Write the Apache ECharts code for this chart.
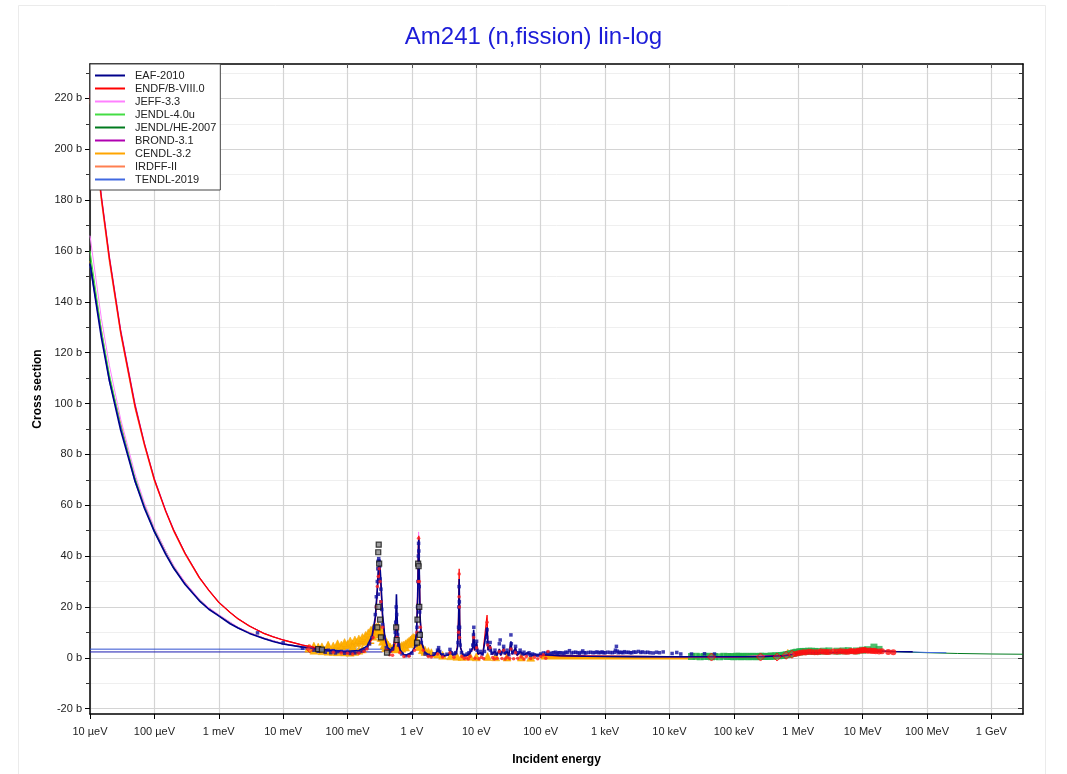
<!DOCTYPE html>
<html>
<head>
<meta charset="utf-8">
<script src="https://cdn.jsdelivr.net/npm/echarts@6/dist/echarts.min.js"></script>
<style>html,body{margin:0;padding:0;background:#fff}#c{width:1067px;height:774px}</style>
</head>
<body>
<div id="c"></div>
<script>
// ---------- tick labels ----------
const xTickValues = [1e-5,1e-4,1e-3,1e-2,1e-1,1,10,100,1e3,1e4,1e5,1e6,1e7,1e8,1e9];
const xTickLabels = ['10 µeV','100 µeV','1 meV','10 meV','100 meV','1 eV','10 eV','100 eV','1 keV','10 keV','100 keV','1 MeV','10 MeV','100 MeV','1 GeV'];
const yMajorTicks = [-20,0,20,40,60,80,100,120,140,160,180,200,220];
const yMinorTicks = [-10,10,30,50,70,90,110,130,150,170,190,210,230];

const libNames = ['EAF-2010','ENDF/B-VIII.0','JEFF-3.3','JENDL-4.0u','JENDL/HE-2007','BROND-3.1','CENDL-3.2','IRDFF-II','TENDL-2019'];
const libColors = ['#00008b','#ff0000','#ff80ff','#44dd44','#007a1e','#b000b0','#ffa500','#ff7f50','#4169e1'];

// ---------- evaluated data (energy eV, cross section b) ----------
const eaf2010 = [[1e-5,155],[1.5e-5,126],[2e-5,109],[3e-5,89.5],[5e-5,69.5],[7e-5,58.8],[1e-4,49.6],[1.5e-4,40.7],[2e-4,35.2],[3e-4,28.8],[5e-4,22.4],[7e-4,19.1],[1e-3,16.5],[1.5e-3,13.4],[2e-3,11.7],[3e-3,9.6],[5e-3,7.6],[7e-3,6.4],[1e-2,5.4],[2e-2,4.2],[3e-2,3.6],[5e-2,3.0],[0.08,2.7],[0.1,2.6],[0.15,2.9],[0.2,4.5],[0.24,8.5],[0.27,16],[0.29,27],[0.305,37.5],[0.315,38.5],[0.33,30],[0.35,17],[0.38,8],[0.42,4],[0.47,3],[0.52,4.5],[0.55,9],[0.565,18],[0.575,25],[0.585,18],[0.61,7],[0.66,3],[0.75,1.3],[0.85,1.2],[1.0,2.2],[1.1,4],[1.18,10],[1.23,24],[1.26,42],[1.28,47],[1.3,35],[1.34,16],[1.42,6],[1.6,2],[1.9,0.8],[2.2,1],[2.4,2.2],[2.6,3.5],[2.8,1.5],[3.2,0.8],[3.7,1.2],[3.97,2.8],[4.3,1.2],[4.8,1.5],[5.1,4],[5.3,14],[5.42,31],[5.52,14],[5.7,4],[6.2,1.2],[7.0,0.8],[7.7,1.5],[8.2,2.5],[8.8,4],[9.1,11],[9.4,3],[10.1,6],[10.6,1.5],[11.6,2],[12.6,1.3],[13.4,2],[14.7,12],[15.2,3],[16.4,5],[17.5,1.5],[19.5,2.5],[21,1],[22.8,3.5],[24,1],[26.6,4],[28,1.5],[30,2.5],[32,1],[34.5,6.5],[36,1.5],[40.7,4],[43,1],[48,2.5],[55,1.2],[63,2],[75,1],[100,1.3],[200,0.8],[500,0.6],[1000,0.5],[3000,0.45],[1e4,0.4],[3e4,0.4],[1e5,0.4],[3e5,0.5],[6e5,0.8],[8e5,1.3],[1e6,1.8],[1.3e6,2.0],[2e6,2.0],[4e6,2.1],[7e6,2.3],[1e7,2.5],[1.5e7,2.6],[2e7,2.6],[3e7,2.5],[6e7,2.4]];

const endf8 = [[1e-5,221],[1.5e-5,181],[2e-5,157],[3e-5,128],[5e-5,99],[7e-5,84],[1e-4,70],[1.5e-4,57.5],[2e-4,50],[3e-4,41],[5e-4,31.5],[7e-4,26.5],[1e-3,21.8],[1.5e-3,17.8],[2e-3,15.3],[3e-3,12.4],[5e-3,9.6],[7e-3,8.2],[1e-2,7.0],[2e-2,5.0],[3e-2,4.1],[5e-2,3.0],[0.08,2.2],[0.1,1.8],[0.15,2.0],[0.2,3.6],[0.24,7.5],[0.27,15],[0.29,26],[0.305,35.5],[0.315,36],[0.33,28],[0.35,16],[0.38,7.5],[0.42,3.5],[0.47,2.3],[0.52,3.2],[0.55,6.5],[0.565,11],[0.575,14],[0.585,11],[0.61,5],[0.66,2.5],[0.75,1.1],[0.85,1.0],[1.0,2.0],[1.1,3.8],[1.18,10],[1.23,25],[1.26,44],[1.28,48],[1.3,36],[1.34,16],[1.42,5.5],[1.6,1.8],[1.9,0.7],[2.2,0.9],[2.4,2.0],[2.6,3.3],[2.8,1.3],[3.2,0.7],[3.7,1.1],[3.97,2.6],[4.3,1.1],[4.8,1.4],[5.1,4.5],[5.3,16],[5.42,35],[5.52,15],[5.7,4],[6.2,1.1],[7.0,0.7],[7.7,1.3],[8.2,2.3],[8.8,3.5],[9.1,10],[9.4,2.8],[10.1,5.5],[10.6,1.3],[11.6,1.8],[12.6,1.1],[13.4,1.8],[14.7,16.8],[15.2,3],[16.4,4.5],[17.5,1.3],[19.5,2.2],[21,0.9],[22.8,3.2],[24,0.9],[26.6,3.6],[28,1.3],[30,2.2],[32,0.9],[34.5,6],[36,1.3],[40.7,3.6],[43,0.9],[48,2.2],[55,1.1],[63,1.8],[75,0.9],[100,1.1],[200,0.8],[500,0.6],[1000,0.55],[1e4,0.45],[1e5,0.4],[3e5,0.45],[6e5,0.9],[8e5,1.4],[1e6,1.8],[2e6,2.0],[5e6,2.2],[1e7,2.6],[1.5e7,2.7],[2e7,2.6],[3e7,2.4]];

const jeff33 = [[1e-5,166],[1.5e-5,133.5],[2e-5,115],[3e-5,93.8],[5e-5,72.3],[7e-5,60.9],[1e-4,51.2],[1.5e-4,42],[2e-4,36.3],[3e-4,29.7],[5e-4,23.1],[7e-4,19.7],[1e-3,17.0],[2e-3,12.0],[3e-3,9.9],[5e-3,7.8],[1e-2,5.6],[2e-2,4.35],[3e-2,3.7],[5e-2,3.1],[0.1,2.7],[0.15,'-'],[1.2,20],[1.25,40],[1.27,49.5],[1.29,40],[1.33,18],[1.36,'-'],[100,1.2],[1000,0.55],[1e4,0.45],[1e5,0.4],[6e5,0.9],[1e6,1.8],[5e6,2.2],[1e7,2.6],[2e7,2.6]];

const jendl40u = [[1e-5,160],[1.5e-5,129],[2e-5,111.5],[3e-5,91.5],[5e-5,71.0],[7e-5,60.0],[1e-4,50.6],[2e-4,35.9],[3e-4,29.4],[5e-4,22.9],[7e-4,19.5],[1e-3,16.8],[2e-3,11.9],[3e-3,9.8],[5e-3,7.7],[1e-2,5.5],[2e-2,4.3],[3e-2,3.7],[5e-2,3.1],[0.1,2.7],[0.15,'-'],[100,1.2],[1000,0.5],[1e4,0.45],[5e4,0.5],[1e5,0.5],[3e5,0.55],[6e5,0.9],[8e5,1.4],[1e6,1.9],[2e6,2.0],[5e6,2.2],[1e7,2.6],[2e7,2.7]];

const jendlhe2007 = [[1e-5,157],[1.5e-5,127.5],[2e-5,110.3],[3e-5,90.5],[5e-5,70.3],[7e-5,59.5],[1e-4,50.2],[2e-4,35.6],[3e-4,29.1],[5e-4,22.7],[7e-4,19.3],[1e-3,16.7],[2e-3,11.8],[3e-3,9.7],[5e-3,7.7],[1e-2,5.5],[2e-2,4.25],[3e-2,3.65],[5e-2,3.05],[0.1,2.65],[0.15,'-'],[100,1.2],[1000,0.5],[1e4,0.45],[1e5,0.45],[3e5,0.5],[6e5,0.9],[8e5,1.4],[1e6,1.9],[2e6,2.0],[5e6,2.2],[1e7,2.6],[2e7,2.5],[3e7,2.4],[1e8,2.0],[3e8,1.7],[1e9,1.5],[3.1e9,1.4]];

const brond31 = [[1e-5,222],[1.5e-5,182],[2e-5,158],[3e-5,129],[5e-5,100],[7e-5,84.5],[1e-4,70.5],[1.5e-4,58],[2e-4,50.4],[3e-4,41.3],[5e-4,31.7],[7e-4,26.7],[1e-3,22],[1.5e-3,17.9],[2e-3,15.4],[3e-3,12.5],[5e-3,9.7],[7e-3,8.3],[1e-2,7.05],[2e-2,5.05],[3e-2,4.15],[5e-2,3.1],[0.1,1.9],[0.15,'-'],[100,1.1],[1000,0.55],[1e4,0.45],[1e5,0.4],[6e5,0.9],[1e6,1.8],[5e6,2.2],[1e7,2.6],[2e7,2.6]];

const cendl32 = [[1e-5,156],[2e-5,110],[5e-5,70],[1e-4,50],[2e-4,35.5],[5e-4,22.6],[1e-3,16.6],[2e-3,11.8],[5e-3,7.7],[1e-2,5.5],[2e-2,4.3],[5e-2,3.1],[0.1,2.7],[0.15,'-'],[100,0.2],[1000,0.15],[1e4,0.15],[3e4,0.2],[1e5,0.4],[6e5,0.9],[1e6,1.8],[5e6,2.2],[1e7,2.6],[2e7,2.6]];

const irdff2 = [[1e-5,219],[1.5e-5,179.5],[2e-5,155.5],[3e-5,127],[5e-5,98],[7e-5,83.3],[1e-4,69.4],[2e-4,49.6],[3e-4,40.6],[5e-4,31.2],[1e-3,21.6],[2e-3,15.2],[5e-3,9.5],[1e-2,6.95],[2e-2,4.95],[5e-2,3.05],[0.1,1.9],[0.15,'-'],[100,1.1],[1e4,0.45],[1e5,0.4],[6e5,0.9],[1e6,1.8],[5e6,2.2],[1e7,2.6],[2e7,2.6],[6e7,2.4]];

const tendl2019 = [[1e-5,154],[2e-5,108.5],[5e-5,69],[1e-4,49.3],[2e-4,35],[5e-4,22.3],[1e-3,16.4],[2e-3,11.6],[5e-3,7.5],[1e-2,5.4],[2e-2,4.2],[5e-2,3.0],[0.1,2.6],[0.15,'-'],[100,1.3],[1000,0.5],[1e4,0.45],[1e5,0.4],[6e5,0.9],[1e6,1.8],[5e6,2.2],[1e7,2.5],[2e7,2.6],[6e7,2.3],[1e8,2.1],[2e8,2.0]];

// horizontal thermal-range bars
const thermalHi = [[1e-5,3.4],[0.35,3.4]];
const thermalLo = [[1e-5,2.3],[0.35,2.3]];

// ---------- experimental points ----------
const expNavy = [[0.004,9.8],[0.01,5.9],[0.02,3.8],[0.03,3.0],[0.035,2.6],[0.04,3.2],[0.045,2.2],[0.05,3.0],[0.055,2.0],[0.06,2.8],[0.065,1.9],[0.07,2.4],[0.08,2.5],[0.09,1.8],[0.1,2.2],[0.11,1.7],[0.12,2.2],[0.13,1.9],[0.15,2.3],[0.17,2.6],[0.18,3.1],[0.2,4],[0.22,5.5],[0.24,8],[0.26,12],[0.27,17],[0.28,24],[0.29,30],[0.295,35],[0.3,38],[0.305,39],[0.31,38],[0.315,36],[0.32,31],[0.33,27],[0.34,19],[0.35,13],[0.37,8],[0.28,20],[0.3,25],[0.31,30],[0.33,22],[0.4,4],[0.45,2.5],[0.5,3.5],[0.55,10],[0.56,14],[0.57,20],[0.58,17],[0.6,9],[0.62,5],[0.7,1.5],[0.8,0.8],[0.9,1],[1.0,1.8],[1.15,5],[1.2,12],[1.22,20],[1.24,30],[1.26,40],[1.27,45],[1.28,42],[1.3,28],[1.32,18],[1.35,10],[1.4,6],[1.6,1.5],[1.8,1.0],[2.2,1.6],[2.5,3],[2.6,4],[2.7,2.5],[3,1.2],[3.5,1.4],[3.9,3.3],[4.1,2],[4.5,1.5],[4.8,2],[5.2,6],[5.3,12],[5.35,20],[5.4,28],[5.45,22],[5.5,12],[5.6,5],[5.9,2],[6.5,1],[7.2,1.5],[7.7,2],[8.2,3],[8.8,5],[9.05,9],[9.15,12],[9.3,5],[10.1,6.5],[10.3,3],[11.6,2.5],[12.3,1.5],[13.4,2.5],[14.5,8],[14.7,11],[14.9,6],[16.4,6],[16.6,3],[17.5,1.8],[19.5,3],[20,1.5],[22.8,5.5],[23.5,7],[24,2],[26.6,4.5],[27.5,2],[30,3],[32,1.2],[34.5,9],[35,5.5],[37,2],[40.7,4.5],[42,2],[46,2],[48,3],[52,1.5],[55,2.2],[62,1.5],[66,2],[70,1],[75,1.5],[80,1.2],[90,1],[100,1.5],[110,1.9],[120,1.8],[130,2.1],[140,1.6],[150,1.9],[160,2.0],[170,2.2],[180,1.7],[190,2.0],[200,2.0],[215,1.9],[230,1.8],[245,2.2],[260,2.1],[280,2.8],[300,1.9],[325,2.1],[350,2.2],[375,2.0],[400,1.8],[425,2.1],[450,2.7],[475,2.0],[500,1.9],[550,2.1],[600,2.2],[650,2.0],[700,2.1],[750,2.3],[800,2.0],[850,2.1],[900,2.3],[950,2.0],[1000,2.0],[1100,2.2],[1200,2.1],[1300,2.0],[1400,2.2],[1450,3.0],[1500,4.5],[1550,2.6],[1600,2.0],[1700,2.2],[1800,2.1],[1900,2.0],[2000,2.4],[2150,2.1],[2300,2.2],[2450,2.0],[2600,2.0],[2800,2.3],[3000,2.2],[3300,2.5],[3600,2.1],[3800,2.3],[4200,2.1],[4600,2.2],[5000,2.0],[5600,1.9],[6300,2.2],[7000,2.0],[8000,2.3],[1.1e4,1.7],[1.3e4,2.1],[1.5e4,1.5],[2.2e4,1.5],[3.5e4,1.6],[5e4,1.5]];

const expRed = [[0.025,3.5],[0.06,2.2],[0.08,1.9],[0.1,1.8],[0.12,1.5],[0.15,1.8],[0.18,2.5],[0.2,3.5],[0.25,8],[0.28,20],[0.29,28],[0.3,32],[0.31,35],[0.32,30],[0.33,22],[0.35,12],[0.4,3],[0.45,1.2],[0.5,1],[0.55,6],[0.57,12],[0.59,8],[0.65,2],[0.75,0.5],[0.9,0.6],[1.1,3],[1.2,10],[1.25,30],[1.27,47],[1.3,30],[1.35,12],[1.5,3],[1.8,0.5],[2.0,0.3],[2.5,1.5],[3,0.3],[3.9,2],[4.5,0.2],[5.3,10],[5.4,24],[5.42,33],[5.45,20],[5.5,8],[6,0.5],[6.5,-0.3],[7,0],[7.5,-0.5],[8,0.5],[9.1,8],[9.6,-0.2],[10.1,4],[11,-0.4],[12,0.2],[13,-0.3],[14.7,14],[15,5],[16.4,4],[18,0.1],[19,-0.5],[21,-0.2],[22.8,2.5],[25,-0.3],[26.6,3],[28,-0.5],[30,0.2],[33,-0.3],[34.5,3.5],[38,-0.4],[40.7,2],[44,-0.2],[50,0.3],[55,-0.5],[60,0.5],[70,-0.3],[80,0.2],[90,-0.4],[100,0.5],[110,1.2],[120,-0.2],[130,2.5]];

const expRedFast = [[9e5,1.5],[1e6,1.8],[1.1e6,2.0],[1.2e6,2.2],[1.3e6,2.1],[1.45e6,2.4],[1.6e6,2.3],[1.8e6,2.2],[2e6,2.2],[2.25e6,2.5],[2.5e6,2.4],[2.75e6,2.3],[3e6,2.3],[3.5e6,2.5],[4e6,2.4],[4.5e6,2.6],[5e6,2.5],[5.5e6,2.4],[6e6,2.4],[6.5e6,2.7],[7e6,2.6],[7.5e6,2.5],[8e6,2.5],[8.5e6,2.8],[9e6,2.8],[9.5e6,3.0],[1e7,2.9],[1.05e7,3.1],[1.1e7,3.0],[1.2e7,2.8],[1.3e7,2.9],[1.4e7,2.7],[1.5e7,2.8],[1.6e7,2.6],[1.8e7,2.5],[2e7,2.6],[2.5e7,2.3],[3e7,2.2]];

const expRedDiamond = [[0.026,3.6],[4.5e4,0.3],[2.6e5,0.3],[4.7e5,0.3],[6.5e5,1.0],[8e5,1.4]];

const expBlack = [[0.035,3.4],[0.04,3.2],[0.305,44.5],[0.3,41.5],[0.31,37],[0.3,20],[0.32,15],[0.29,12],[0.33,8],[0.57,12],[0.58,7],[0.41,2],[1.25,37],[1.27,36],[1.22,15],[1.3,20],[1.33,9],[1.2,6]];

const expOrange = [[0.025,3.8],[0.03,4.0],[0.035,4.2],[0.04,4.3],[0.05,4.5],[0.06,4.6],[0.07,4.8],[0.08,5.0],[0.09,5.1],[0.1,5.3],[0.12,5.5],[0.14,6.0],[0.16,6.5],[0.18,7.2],[0.2,8.0],[0.22,9.0],[0.24,10.0],[0.26,11],[0.28,12],[0.3,12.3],[0.32,11.5],[0.34,10],[0.36,8.5],[0.38,7],[0.4,6],[0.43,5],[0.46,4.2],[0.5,3.8],[0.55,4],[0.6,4.2],[0.65,4.4],[0.7,4.8],[0.75,5],[0.8,5.5],[0.85,6],[0.9,6.5],[0.95,7],[1.0,7.5],[1.05,8],[1.1,7.8],[1.15,7.2],[1.2,6.5],[1.3,5.5],[1.4,4.5],[1.5,3.5],[1.6,3.0],[1.8,2.5],[2,2.0],[2.5,1.5],[0.03,3.0],[0.04,2.8],[0.05,2.6],[0.06,2.5],[0.07,2.4],[0.09,2.3],[0.11,2.2],[0.13,2.5],[0.15,3.0],[0.17,3.5],[0.03,4.6],[0.05,5.0],[0.07,5.5],[0.09,6.0],[0.11,6.6],[0.13,7.0],[0.15,7.4],[0.17,8.0],[0.19,8.8],[0.21,9.8],[0.23,10.8],[0.25,11.7],[0.27,11.4],[0.29,10.4],[0.31,9.4],[0.33,8],[0.35,6.5],[0.37,5],[0.39,4],[0.05,3.2],[0.08,3.6],[0.12,4.2],[0.2,6.5],[0.25,8.5],[0.3,10.5],[0.35,8],[0.4,5],[0.45,3.5],[0.6,3.5],[0.7,3.8],[0.8,4.2],[0.9,5.5],[1.0,6.2],[1.1,7],[1.2,5.5],[1.3,4.5],[1.45,3.2],[1.6,2.5],[3,1],[4,0.8],[5,0.6],[6,0.5],[8,0.6],[10,0.4],[15,0.5],[20,0.4],[30,0.3],[50,0.3],[70,0.2],[6.9e5,1.8]];

const expOrangeStep = [[0.11,5.7],[0.26,5.7]];
const expOrangeBand = [[100,0.0],[3e4,0.0]];

const expGreen = [[2.2e4,0.5],[2.6e4,0.6],[3e4,0.4],[3.5e4,0.5],[4e4,0.6],[4.5e4,0.4],[5e4,0.5],[6e4,0.4],[7e4,0.6],[8e4,0.5],[9e4,0.5],[1e5,0.4],[1.1e5,0.6],[1.2e5,0.6],[1.3e5,0.4],[1.4e5,0.5],[1.55e5,0.6],[1.7e5,0.4],[1.85e5,0.5],[2e5,0.6],[2.2e5,0.4],[2.4e5,0.5],[2.6e5,0.6],[2.8e5,0.6],[3e5,0.5],[3.3e5,0.5],[3.6e5,0.6],[3.8e5,0.7],[4.2e5,0.6],[4.5e5,0.8],[5e5,0.8],[5.5e5,0.9],[6e5,1.0],[6.5e5,1.2],[7e5,1.3],[7.5e5,1.5],[8e5,1.7],[8.5e5,1.9],[9e5,2.0],[9.5e5,2.2],[1.05e6,2.3],[1.1e6,2.4],[1.2e6,2.5],[1.3e6,2.5],[1.45e6,2.6],[1.6e6,2.6],[1.8e6,2.5],[2e6,2.5],[2.5e6,2.6],[3e6,2.7],[4e6,2.6],[5e6,2.7],[6e6,2.8],[8e6,2.7],[1e7,3.0],[1.2e7,3.2],[1.5e7,4.2],[1.8e7,3.3]];

// ---------- chart ----------
const chart = echarts.init(document.getElementById('c'), null, {renderer:'canvas'});
const xFmt = v => {
  const i = xTickValues.findIndex(t => Math.abs(Math.log10(t) - Math.log10(v)) < 1e-6);
  return i >= 0 ? xTickLabels[i] : '';
};
const libData = [eaf2010, endf8, jeff33, jendl40u, jendlhe2007, brond31, cendl32, irdff2, tendl2019];
const drawOrder = [6, 4, 3, 8, 2, 7, 5, 1, 0];
const series = [];
series.push({name:'thermalHi', type:'line', data:thermalHi, showSymbol:false, lineStyle:{color:'#3050d0', width:1}, color:'#3050d0', z:2});
series.push({name:'thermalLo', type:'line', data:thermalLo, showSymbol:false, lineStyle:{color:'#1a1ab0', width:1}, color:'#1a1ab0', z:2});
series.push({name:'expOrangeBand', type:'line', data:expOrangeBand, showSymbol:false, lineStyle:{color:'#ffa500', width:3.5}, z:2});
series.push({name:'expOrangeStep', type:'line', data:expOrangeStep, showSymbol:false, lineStyle:{color:'#ffa500', width:1.5}, z:2});
series.push({name:'expOrange', type:'scatter', data:expOrange, symbol:'triangle', symbolSize:8, itemStyle:{color:'#ffb000', borderColor:'#f5a000', borderWidth:0.5, opacity:0.95}, z:2});
series.push({name:'expGreen', type:'scatter', data:expGreen, symbol:'rect', symbolSize:7, itemStyle:{color:'#22b04a'}, z:2});
for (const i of drawOrder) {
  series.push({name:libNames[i], type:'line', data:libData[i], showSymbol:false, connectNulls:false,
    color:libColors[i], lineStyle:{color:libColors[i], width: i===0 ? 1.6 : (i===1 ? 1.3 : 1)}, z:3});
}
series.push({name:'expNavy', type:'scatter', data:expNavy, symbol:'rect', symbolSize:3.5, itemStyle:{color:'#1010a0'}, z:4});
series.push({name:'expRed', type:'scatter', data:expRed, symbol:'circle', symbolSize:3.5, itemStyle:{color:'#ff2020'}, z:4});
series.push({name:'expRedFast', type:'scatter', data:expRedFast, symbol:'circle', symbolSize:6, itemStyle:{color:'#ff1010'}, z:4});
series.push({name:'expRedDiamond', type:'scatter', data:expRedDiamond, symbol:'diamond', symbolSize:8, itemStyle:{color:'rgba(255,80,80,0.4)', borderColor:'#ff0000', borderWidth:1}, z:4});
series.push({name:'expBlack', type:'scatter', data:expBlack, symbol:'rect', symbolSize:5, itemStyle:{color:'#888', borderColor:'#111', borderWidth:1.2}, z:5});

const axisBase = {min:-22.1, max:233.5, type:'value'};
chart.setOption({
  animation:false,
  textStyle:{fontFamily:'Liberation Sans, Arial, sans-serif'},
  title:{text:'Am241 (n,fission) lin-log', left:'center', top:20,
    textStyle:{color:'#1c1cd8', fontSize:24, fontWeight:'normal', fontFamily:'Liberation Sans, Arial, sans-serif'}},
  graphic:[{type:'rect', shape:{x:18.5, y:5.5, width:1027, height:800}, style:{fill:'none', stroke:'#ebebeb', lineWidth:1}, silent:true, z:-10}],
  grid:{left:90, right:44, top:64, bottom:60, containLabel:false},
  legend:{data:libNames, left:90, top:64, orient:'vertical', backgroundColor:'#fff', borderColor:'#444', borderWidth:1,
    padding:[5,4,4,5], itemWidth:30, itemHeight:2, itemGap:0, icon:'rect',
    textStyle:{fontSize:11, color:'#222', lineHeight:13, padding:[0,0,0,5]}, selectedMode:false, z:10},
  xAxis:[
    {type:'log', logBase:10, min:1e-5, max:3.1e9, position:'bottom',
      axisLine:{show:true, onZero:false, lineStyle:{color:'#000', width:1.5}},
      axisTick:{show:true, inside:false, length:5, customValues:xTickValues, lineStyle:{color:'#000', width:1}},
      axisLabel:{customValues:xTickValues, formatter:xFmt, color:'#222', fontSize:11, margin:12},
      splitLine:{show:true, lineStyle:{color:'#d4d4d4', width:1.2}},
      name:'Incident energy', nameLocation:'middle', nameGap:40,
      nameTextStyle:{fontWeight:'bold', fontSize:12, color:'#000'}},
    {type:'log', logBase:10, min:1e-5, max:3.1e9, position:'top',
      axisLine:{show:true, onZero:false, lineStyle:{color:'#000', width:1.5}},
      axisTick:{show:true, inside:true, length:4, customValues:xTickValues, lineStyle:{color:'#555'}},
      axisLabel:{show:false}, splitLine:{show:false}}
  ],
  yAxis:[
    Object.assign({}, axisBase, {position:'left',
      axisLine:{show:true, onZero:false, lineStyle:{color:'#000', width:1.5}},
      axisTick:{show:true, inside:false, length:5, customValues:yMajorTicks, lineStyle:{color:'#000'}},
      axisLabel:{customValues:yMajorTicks, formatter:v => v + ' b', color:'#222', fontSize:11, margin:8},
      splitLine:{show:true, lineStyle:{color:'#d4d4d4', width:1.2}},
      name:'Cross section', nameLocation:'middle', nameGap:46, nameRotate:90,
      nameTextStyle:{fontWeight:'bold', fontSize:12, color:'#000'}}),
    Object.assign({}, axisBase, {position:'left',
      axisLine:{show:false, onZero:false},
      axisTick:{show:true, inside:false, length:4, customValues:yMinorTicks, lineStyle:{color:'#333'}},
      axisLabel:{show:false},
      splitLine:{show:true, lineStyle:{color:'#efefef', width:1}}}),
    Object.assign({}, axisBase, {position:'right',
      axisLine:{show:true, onZero:false, lineStyle:{color:'#000', width:1.5}},
      axisTick:{show:true, inside:true, length:5, customValues:yMajorTicks, lineStyle:{color:'#333'}},
      axisLabel:{show:false}, splitLine:{show:false}}),
    Object.assign({}, axisBase, {position:'right',
      axisLine:{show:false, onZero:false},
      axisTick:{show:true, inside:true, length:4, customValues:yMinorTicks, lineStyle:{color:'#333'}},
      axisLabel:{show:false}, splitLine:{show:false}})
  ],
  series: series
});
</script>
</body>
</html>
